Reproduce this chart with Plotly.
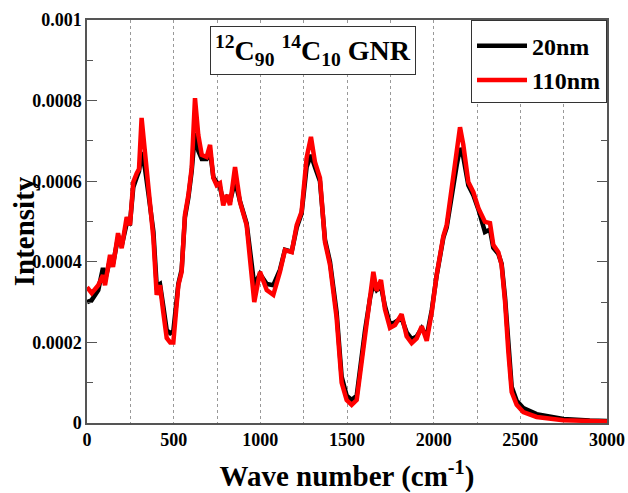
import plotly.graph_objects as go

# Wave numbers (cm^-1) sampled along both spectra
wave_number = [0, 27, 65, 92, 104, 133, 150, 179, 200, 229, 248, 267, 287, 300, 315, 335, 354,
               383, 402, 421, 440, 460, 480, 498, 527, 546, 565, 585, 604, 623, 642, 662, 690,
               710, 729, 748, 767, 786, 806, 825, 854, 883, 921, 940, 965, 998, 1037, 1075,
               1113, 1142, 1181, 1210, 1238, 1267, 1292, 1315, 1344, 1373, 1402, 1440, 1469,
               1498, 1527, 1556, 1575, 1604, 1633, 1652, 1671, 1696, 1719, 1748, 1777, 1815,
               1844, 1873, 1902, 1931, 1960, 1989, 2017, 2056, 2075, 2104, 2133, 2152, 2171,
               2200, 2229, 2258, 2296, 2325, 2344, 2373, 2392, 2412, 2431, 2450, 2479, 2517,
               2594, 2748, 2900, 3000]

# Intensity in units of 1e-4
intensity_20nm = [3.00, 3.05, 3.30, 3.85, 3.55, 4.05, 3.95, 4.60, 4.40, 4.95, 4.95, 5.85, 6.10,
                  6.25, 6.72, 6.30, 5.70, 4.75, 3.40, 3.45, 2.90, 2.30, 2.23, 2.28, 3.45, 3.80,
                  5.10, 5.60, 6.25, 7.20, 6.75, 6.55, 6.55, 6.75, 6.10, 5.95, 5.85, 5.50, 5.60,
                  5.50, 6.00, 5.50, 4.95, 4.30, 3.42, 3.70, 3.45, 3.42, 3.80, 4.30, 4.25, 4.85,
                  5.20, 6.35, 6.65, 6.35, 6.00, 4.55, 4.00, 2.75, 1.15, 0.68, 0.57, 0.68, 1.35,
                  2.30, 3.10, 3.47, 3.30, 3.40, 2.90, 2.45, 2.50, 2.60, 2.25, 2.08, 2.15, 2.35,
                  2.15, 2.80, 3.65, 4.60, 4.85, 5.70, 6.40, 6.82, 6.60, 5.90, 5.65, 5.30, 4.74,
                  4.80, 4.35, 4.20, 3.95, 3.10, 1.90, 0.90, 0.55, 0.37, 0.22, 0.10, 0.06, 0.05]

intensity_110nm = [3.37, 3.22, 3.42, 3.67, 3.42, 4.17, 3.87, 4.71, 4.34, 5.11, 4.91, 5.98, 6.20,
                   6.30, 7.57, 6.72, 5.66, 4.59, 3.18, 3.42, 2.75, 2.11, 2.00, 2.00, 3.42, 3.75,
                   5.16, 5.66, 6.33, 8.06, 7.15, 6.65, 6.60, 6.90, 6.08, 5.90, 5.95, 5.40, 5.66,
                   5.41, 6.35, 5.48, 4.91, 4.17, 3.00, 3.75, 3.30, 3.18, 3.75, 4.29, 4.24, 4.91,
                   5.24, 6.58, 7.10, 6.48, 6.08, 4.49, 3.92, 2.61, 1.00, 0.57, 0.45, 0.57, 1.24,
                   2.20, 3.13, 3.75, 3.28, 3.55, 2.82, 2.36, 2.43, 2.70, 2.15, 1.98, 2.10, 2.40,
                   2.04, 2.75, 3.67, 4.64, 4.91, 5.83, 6.72, 7.34, 6.90, 5.98, 5.73, 5.33, 4.99,
                   4.96, 4.42, 4.24, 3.92, 3.00, 1.76, 0.77, 0.45, 0.27, 0.15, 0.07, 0.05, 0.04]

x_ticks = [0, 500, 1000, 1500, 2000, 2500, 3000]
y_ticks = [0, 0.0002, 0.0004, 0.0006, 0.0008, 0.001]
y_tick_text = ["0", "0.0002", "0.0004", "0.0006", "0.0008", "0.001"]

SERIF = "Liberation Serif"

fig = go.Figure()
fig.add_trace(go.Scatter(x=wave_number, y=[v * 1e-4 for v in intensity_20nm], mode="lines",
                         name="20nm", legendgroup="a", line=dict(color="black", width=4.5)))
fig.add_trace(go.Scatter(x=wave_number, y=[v * 1e-4 for v in intensity_110nm], mode="lines",
                         name="110nm", legendgroup="b", line=dict(color="#ff0000", width=4.5)))

fig.update_layout(
    width=628, height=493,
    margin=dict(l=87, r=21, t=20, b=70, autoexpand=False),
    paper_bgcolor="white", plot_bgcolor="white",
    font=dict(family=SERIF, color="black", size=18, weight="bold"),
    showlegend=True,
    legend=dict(x=1, y=1, xanchor="right", yanchor="top", bgcolor="white",
                bordercolor="#333333", borderwidth=1,
                font=dict(family=SERIF, size=24, weight="bold"),
                title=dict(text=" ", font=dict(size=2)),
                itemwidth=50, tracegroupgap=0),
    annotations=[
        dict(x=0.236, y=0.985, xref="paper", yref="paper", xanchor="left", yanchor="top",
             text="<sup>12</sup>C<sub>90</sub> <sup>14</sup>C<sub>10</sub> GNR",
             showarrow=False, bordercolor="#333333", borderwidth=1, borderpad=4,
             font=dict(family=SERIF, size=28, weight="bold"), bgcolor="white"),
        # y-axis title
        dict(x=-0.121, y=0.476, xref="paper", yref="paper", xanchor="center", yanchor="middle",
             text="Intensity", textangle=-90, showarrow=False,
             font=dict(family=SERIF, size=29, weight="bold")),
    ],
)

fig.update_xaxes(
    range=[0, 3000], tickvals=x_ticks, ticks="", showline=True, linecolor="#555555",
    linewidth=1.5, mirror=True, zeroline=False, automargin=False,
    showgrid=True, gridcolor="#999999", griddash="dot", gridwidth=1,
    minor=dict(dtick=250, tick0=0, showgrid=True, gridcolor="#999999", griddash="dot"),
    tickfont=dict(family=SERIF, size=18, weight="bold"),
    title=dict(text="Wave number (cm<sup>-1</sup>)", standoff=17,
               font=dict(family=SERIF, size=29, weight="bold")),
)
fig.update_yaxes(
    range=[0, 0.001], tickvals=y_ticks, ticktext=y_tick_text, ticks="inside", ticklen=10,
    tickcolor="#555555", showline=True, linecolor="#555555", linewidth=1.5, mirror="ticks",
    zeroline=False, showgrid=False, automargin=False,
    minor=dict(dtick=0.0001, ticks="inside", ticklen=6, tickcolor="#555555"),
    tickfont=dict(family=SERIF, size=18, weight="bold"), ticklabelstandoff=0,
)

fig.write_html("out.html")
